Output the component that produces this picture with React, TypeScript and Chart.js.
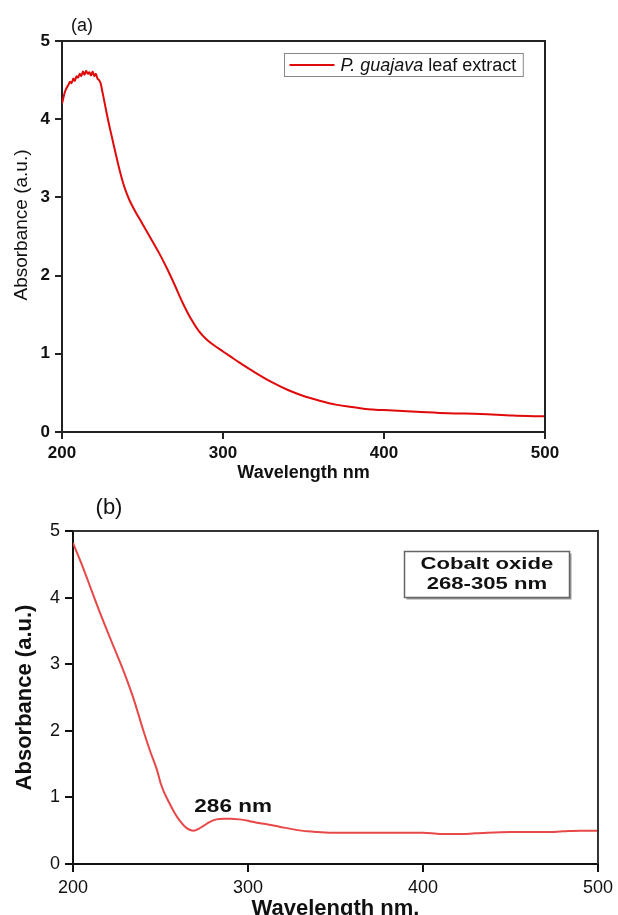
import React, { useEffect, useRef } from 'react';
import { Chart, registerables } from 'chart.js';

Chart.register(...registerables);

// ---------- data ----------
const wavelengthsA = [200, 202, 204, 205, 206, 207, 208, 209, 210, 211, 212, 213, 214, 215, 216, 217, 218, 219, 220, 221, 222, 223, 224, 225, 226, 228, 230, 232, 234, 236, 238, 240, 242, 245, 250, 255, 260, 265, 270, 275, 280, 285, 290, 295, 300, 305, 310, 320, 330, 340, 350, 360, 370, 380, 390, 400, 420, 440, 460, 480, 500];
const absorbanceA = [4.20, 4.36, 4.44, 4.48, 4.46, 4.52, 4.49, 4.55, 4.53, 4.58, 4.55, 4.61, 4.57, 4.62, 4.58, 4.60, 4.56, 4.61, 4.55, 4.58, 4.52, 4.50, 4.46, 4.36, 4.26, 4.05, 3.86, 3.68, 3.50, 3.33, 3.18, 3.06, 2.96, 2.84, 2.66, 2.48, 2.30, 2.10, 1.88, 1.65, 1.45, 1.29, 1.18, 1.10, 1.03, 0.96, 0.89, 0.76, 0.64, 0.54, 0.46, 0.40, 0.35, 0.32, 0.29, 0.28, 0.26, 0.24, 0.23, 0.21, 0.20];

const wavelengthsB = [200, 205, 210, 215, 220, 225, 230, 235, 240, 244, 248, 250, 252, 255, 258, 261, 264, 267, 269, 272, 275, 278, 282, 286, 290, 295, 300, 305, 310, 318, 326, 334, 340, 350, 360, 380, 400, 410, 420, 430, 450, 470, 480, 490, 500];
const absorbanceB = [4.82, 4.50, 4.15, 3.80, 3.47, 3.15, 2.82, 2.45, 2.02, 1.70, 1.41, 1.22, 1.08, 0.92, 0.77, 0.65, 0.56, 0.51, 0.50, 0.53, 0.58, 0.63, 0.67, 0.68, 0.68, 0.67, 0.65, 0.62, 0.60, 0.56, 0.52, 0.49, 0.48, 0.47, 0.47, 0.47, 0.47, 0.45, 0.45, 0.46, 0.48, 0.48, 0.49, 0.50, 0.50];

const xTicks = [200, 300, 400, 500];
const yTicks = [0, 1, 2, 3, 4, 5];

const panelLabelA = '(a)';
const panelLabelB = '(b)';
const xTitleA = 'Wavelength nm';
const xTitleB = 'Wavelength nm.';
const yTitle = 'Absorbance (a.u.)';
const legendItalic = 'P. guajava';
const legendRest = ' leaf extract';
const boxLines = ['Cobalt oxide', '268-305 nm'];
const peakLabel = '286 nm';
const peakLabelPos = { x: 291.5, y: 0.86 };
const boxCenterPos = { x: 436.5, y: 4.35 };

const FONT = "'Liberation Sans', Arial, Helvetica, sans-serif";

function stretchedText(ctx: CanvasRenderingContext2D, text: string, cx: number, cy: number, font: string, sx: number, color = '#111') {
  ctx.save();
  ctx.font = font;
  ctx.fillStyle = color;
  ctx.textAlign = 'center';
  ctx.textBaseline = 'middle';
  ctx.translate(cx, cy);
  ctx.scale(sx, 1);
  ctx.fillText(text, 0, 0);
  ctx.restore();
}

function frameLines(ctx: CanvasRenderingContext2D, area: any, color: string, width: number) {
  ctx.save();
  ctx.strokeStyle = color;
  ctx.lineWidth = width;
  ctx.beginPath();
  ctx.moveTo(area.left, area.top);
  ctx.lineTo(area.right, area.top);
  ctx.lineTo(area.right, area.bottom);
  ctx.stroke();
  ctx.restore();
}

interface PanelSpec {
  xs: number[];
  ys: number[];
  color: string;
  padTop: number;
  padRight: number;
  yWidth: number;
  xHeight: number;
  tickFont: any;
  tickLen: number;
  yTickPad: number;
  xTickPad: number;
  xTitle: string;
  xTitleFont: any;
  yTitleShow: boolean;
  yTitleFont: any;
  yTitlePad: number;
  axisColor: string;
  plugin: any;
}

function buildConfig(p: PanelSpec): any {
  const points = p.xs.map((x, i) => ({ x, y: p.ys[i] }));
  return {
    type: 'line',
    data: {
      datasets: [
        {
          data: points,
          borderColor: p.color,
          borderWidth: 2,
          pointRadius: 0,
          cubicInterpolationMode: 'monotone',
          fill: false,
        },
      ],
    },
    options: {
      animation: false,
      responsive: false,
      devicePixelRatio: 1,
      layout: { padding: { top: p.padTop, right: p.padRight, left: 0, bottom: 0 } },
      plugins: { legend: { display: false }, tooltip: { enabled: false } },
      scales: {
        x: {
          type: 'linear',
          min: 200,
          max: 500,
          afterBuildTicks: (s: any) => {
            s.ticks = xTicks.map((value) => ({ value }));
          },
          afterFit: (s: any) => {
            s.height = p.xHeight;
          },
          grid: { display: true, drawOnChartArea: false, drawTicks: true, tickLength: p.tickLen, color: p.axisColor, lineWidth: 2 },
          border: { display: true, color: p.axisColor, width: 2 },
          ticks: { color: '#111', font: p.tickFont, padding: p.xTickPad, maxRotation: 0, autoSkip: false },
          title: { display: true, text: p.xTitle, color: '#111', font: p.xTitleFont, padding: { top: 0, bottom: 0 } },
        },
        y: {
          type: 'linear',
          min: 0,
          max: 5,
          afterBuildTicks: (s: any) => {
            s.ticks = yTicks.map((value) => ({ value }));
          },
          afterFit: (s: any) => {
            s.width = p.yWidth;
          },
          grid: { display: true, drawOnChartArea: false, drawTicks: true, tickLength: p.tickLen, color: p.axisColor, lineWidth: 2 },
          border: { display: true, color: p.axisColor, width: 2 },
          ticks: { color: '#111', font: p.tickFont, padding: p.yTickPad, autoSkip: false },
          title: { display: p.yTitleShow, text: yTitle, color: '#111', font: p.yTitleFont, padding: { top: p.yTitlePad, bottom: 0 } },
        },
      },
    },
    plugins: [p.plugin],
  };
}

const pluginA = {
  id: 'panelA',
  afterDraw(chart: any) {
    const { ctx, chartArea } = chart;
    frameLines(ctx, chartArea, '#222', 2);
    ctx.save();
    // y axis title
    ctx.save();
    ctx.font = `19px ${FONT}`;
    ctx.fillStyle = '#111';
    ctx.textAlign = 'center';
    ctx.textBaseline = 'middle';
    ctx.translate(22, chartArea.top + 184);
    ctx.rotate(-Math.PI / 2);
    ctx.fillText(yTitle, 0, 0);
    ctx.restore();
    // panel label
    ctx.font = `18px ${FONT}`;
    ctx.fillStyle = '#111';
    ctx.textAlign = 'center';
    ctx.textBaseline = 'middle';
    ctx.fillText(panelLabelA, chartArea.left + 20, chartArea.top - 15);
    // legend
    ctx.font = `italic 18px ${FONT}`;
    const wItal = ctx.measureText(legendItalic).width;
    ctx.font = `18px ${FONT}`;
    const wRest = ctx.measureText(legendRest).width;
    const lineLen = 45;
    const boxW = 5 + lineLen + 6 + wItal + wRest + 7;
    const boxH = 23;
    const bx = Math.round(chartArea.right - 22 - boxW) + 0.5;
    const by = chartArea.top + 12.5;
    ctx.strokeStyle = '#888';
    ctx.lineWidth = 1;
    ctx.strokeRect(bx, by, boxW, boxH);
    const cy = by + boxH / 2;
    ctx.strokeStyle = '#e00a0a';
    ctx.lineWidth = 2;
    ctx.beginPath();
    ctx.moveTo(bx + 5, cy);
    ctx.lineTo(bx + 5 + lineLen, cy);
    ctx.stroke();
    ctx.textAlign = 'left';
    ctx.fillStyle = '#111';
    ctx.font = `italic 18px ${FONT}`;
    const tx = bx + 5 + lineLen + 6;
    ctx.fillText(legendItalic, tx, cy + 1);
    ctx.font = `18px ${FONT}`;
    ctx.fillText(legendRest, tx + wItal, cy + 1);
    ctx.restore();
  },
};

const pluginB = {
  id: 'panelB',
  afterDraw(chart: any) {
    const { ctx, chartArea, scales } = chart;
    frameLines(ctx, chartArea, '#333', 2);
    ctx.save();
    ctx.font = `22px ${FONT}`;
    ctx.fillStyle = '#111';
    ctx.textAlign = 'center';
    ctx.textBaseline = 'middle';
    ctx.fillText(panelLabelB, chartArea.left + 36, chartArea.top - 23);
    ctx.restore();

    // annotation box
    const cx = scales.x.getPixelForValue(boxCenterPos.x);
    const cyc = scales.y.getPixelForValue(boxCenterPos.y);
    const bw = 165;
    const bh = 46;
    const bx = Math.round(cx - bw / 2) + 0.5;
    const by = Math.round(cyc - bh / 2) + 0.5;
    ctx.save();
    ctx.fillStyle = '#9a9a9a';
    ctx.fillRect(bx + 2, by + 2, bw, bh);
    ctx.fillStyle = '#fff';
    ctx.fillRect(bx, by, bw, bh);
    ctx.strokeStyle = '#666';
    ctx.lineWidth = 1.5;
    ctx.strokeRect(bx, by, bw, bh);
    ctx.restore();
    stretchedText(ctx, boxLines[0], cx, by + 13, `bold 17px ${FONT}`, 1.3);
    stretchedText(ctx, boxLines[1], cx, by + 33, `bold 17px ${FONT}`, 1.3);

    // peak label
    stretchedText(
      ctx,
      peakLabel,
      scales.x.getPixelForValue(peakLabelPos.x),
      scales.y.getPixelForValue(peakLabelPos.y),
      `bold 18px ${FONT}`,
      1.25
    );
  },
};

function Panel({ spec, top, height }: { spec: PanelSpec; top: number; height: number }) {
  const ref = useRef<HTMLCanvasElement | null>(null);
  useEffect(() => {
    if (!ref.current) return;
    const chart = new Chart(ref.current, buildConfig(spec));
    return () => chart.destroy();
  }, []);
  return (
    <canvas
      ref={ref}
      width={618}
      height={height}
      style={{ position: 'absolute', left: 0, top, width: 618, height, display: 'block' }}
    />
  );
}

const specA: PanelSpec = {
  xs: wavelengthsA,
  ys: absorbanceA,
  color: '#e00a0a',
  padTop: 41,
  padRight: 73,
  yWidth: 62,
  xHeight: 52,
  tickFont: { family: FONT, size: 17, weight: 'bold' },
  tickLen: 7,
  yTickPad: 5,
  xTickPad: 4,
  xTitle: xTitleA,
  xTitleFont: { family: FONT, size: 18, weight: 'bold' },
  yTitleShow: false,
  yTitleFont: { family: FONT, size: 19 },
  yTitlePad: 11,
  axisColor: '#222',
  plugin: pluginA,
};

const specB: PanelSpec = {
  xs: wavelengthsB,
  ys: absorbanceB,
  color: '#e84848',
  padTop: 51,
  padRight: 17,
  yWidth: 73,
  xHeight: 58,
  tickFont: { family: FONT, size: 18 },
  tickLen: 8,
  yTickPad: 5,
  xTickPad: 5,
  xTitle: xTitleB,
  xTitleFont: { family: FONT, size: 22, weight: 'bold' },
  yTitleShow: true,
  yTitleFont: { family: FONT, size: 22, weight: 'bold' },
  yTitlePad: 12,
  axisColor: '#111',
  plugin: pluginB,
};

export default function App() {
  return (
    <div style={{ position: 'absolute', left: 0, top: 0, width: 618, height: 915, background: '#fff', overflow: 'hidden' }}>
      <Panel spec={specA} top={0} height={484} />
      <Panel spec={specB} top={480} height={442} />
    </div>
  );
}
